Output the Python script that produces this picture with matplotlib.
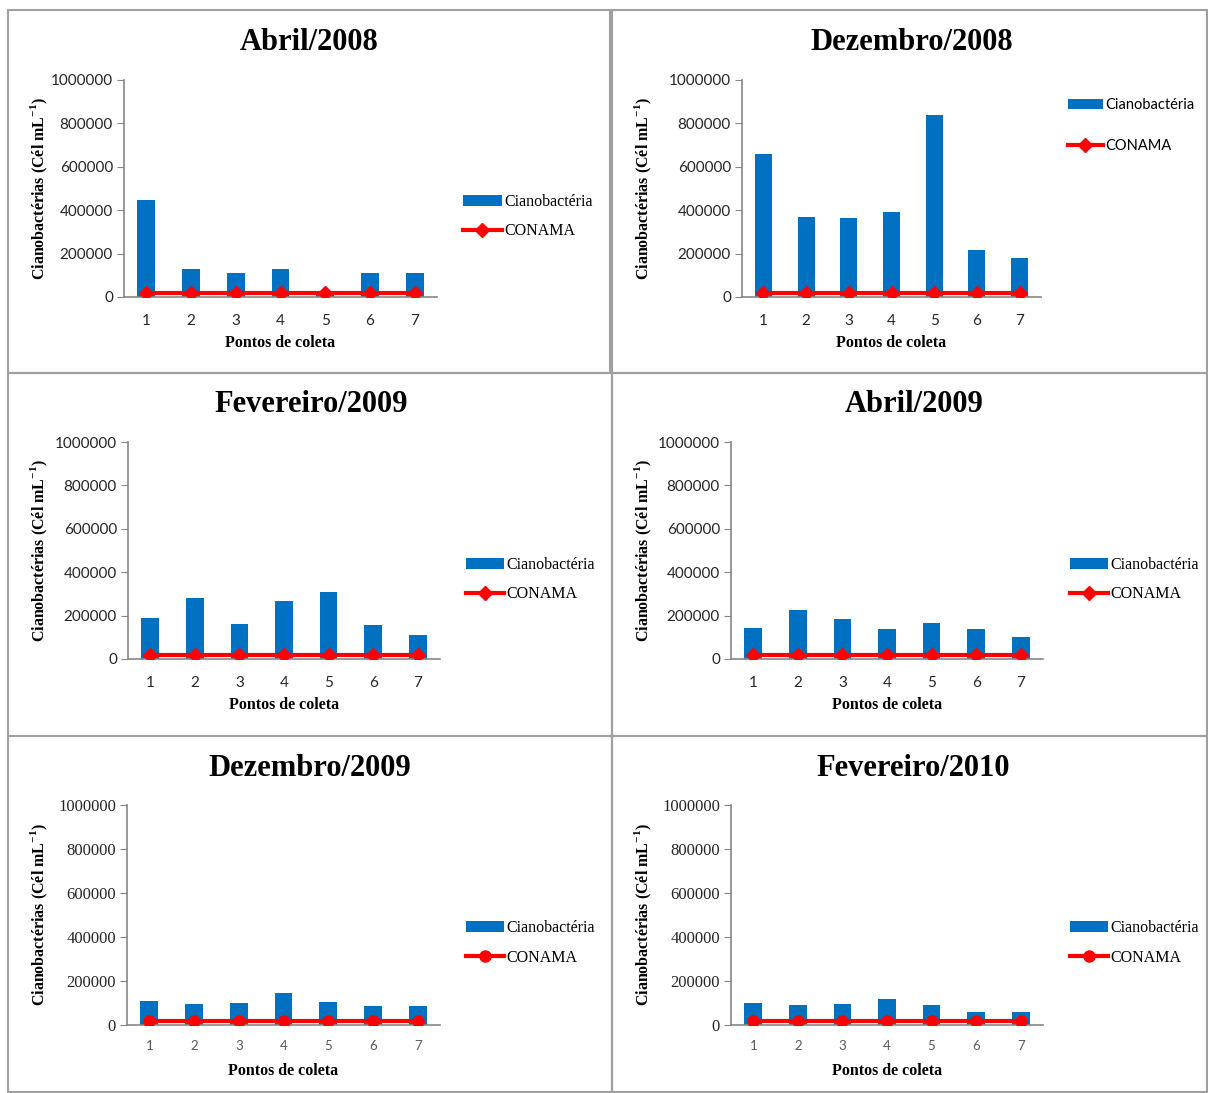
import matplotlib.pyplot as plt
from matplotlib.patches import Rectangle

# DATA
pontos = [1, 2, 3, 4, 5, 6, 7]
titulos = ["Abril/2008", "Dezembro/2008", "Fevereiro/2009",
           "Abril/2009", "Dezembro/2009", "Fevereiro/2010"]
abr_2008 = [447000, 129000, 110000, 129000, 15000, 110000, 110000]
dez_2008 = [659000, 369000, 364000, 392000, 839000, 217000, 180000]
fev_2009 = [189000, 281000, 161000, 267000, 309000, 157000, 111000]
abr_2009 = [143000, 226000, 184000, 138000, 166000, 138000, 101000]
dez_2009 = [109000, 95000, 100000, 145000, 105000, 86000, 86000]
fev_2010 = [100000, 91000, 95000, 118000, 91000, 59000, 59000]
conama = [20000] * 7
yticks = [0, 200000, 400000, 600000, 800000, 1000000]

series = [abr_2008, dez_2008, fev_2009, abr_2009, dez_2009, fev_2010]

W, H = 1208, 1093
fig = plt.figure(figsize=(W / 100, H / 100), dpi=100)

def fx(px):
    return px / W

def fy(py):
    return 1 - py / H

SERIF = "Liberation Serif"
SANS = "Lato"
BLUE = "#0070C0"
RED = "#FF0000"

# panel frames (x0, y0, x1, y1) in pixels
frames = [(8, 10, 610, 373), (612, 10, 1207, 373),
          (8, 373, 612, 736), (612, 373, 1207, 736),
          (8, 736, 612, 1092), (612, 736, 1207, 1092)]
# axes boxes (left, top, right, bottom) in pixels
boxes = [(124, 80, 437, 297), (742, 80, 1041, 297),
         (128, 442, 440, 659), (731, 442, 1043, 659),
         (127, 805, 440, 1025), (731, 805, 1043, 1025)]
title_pos = [(309, 42), (912, 42), (311, 405), (914, 405), (310, 768), (913, 768)]
leg_pos = [(1.084, 0.37), (1.09, 0.79), (1.083, 0.366),
           (1.087, 0.366), (1.083, 0.372), (1.087, 0.372)]
leg_space = [0.85, 1.85, 0.85, 0.85, 0.85, 0.85]
markers = ["D", "D", "D", "D", "o", "o"]
ytick_font = [SANS, SANS, SANS, SANS, SERIF, SERIF]
leg_font = [SERIF, SANS, SERIF, SERIF, SERIF, SERIF]

for (x0, y0, x1, y1) in frames:
    fig.patches.append(Rectangle((fx(x0), fy(y1)), fx(x1 - x0), (y1 - y0) / H,
                                 transform=fig.transFigure, fill=False,
                                 edgecolor="#A0A0A0", linewidth=1.5))

for i, vals in enumerate(series):
    l, t, r, b = boxes[i]
    ax = fig.add_axes([fx(l), fy(b), fx(r - l), (b - t) / H])
    bars = ax.bar(pontos, vals, width=0.4, color=BLUE, label="Cianobactéria", zorder=2)
    ms = 7.5 if markers[i] == "D" else 8
    line, = ax.plot(pontos, conama, color=RED, linewidth=3, marker=markers[i],
                    markersize=ms, label="CONAMA", zorder=3)
    ax.set_xlim(0.5, 7.5)
    ax.set_ylim(0, 1000000)
    ax.set_yticks(yticks)
    ax.set_yticklabels([str(v) for v in yticks], fontfamily=ytick_font[i],
                       fontsize=11 if ytick_font[i] == SANS else 12, color="#262626")
    ax.set_xticks(pontos)
    if i < 4:
        ax.set_xticklabels([str(p) for p in pontos], fontfamily=SANS,
                           fontsize=11, color="#262626")
        ax.tick_params(axis="x", length=0, pad=12)
    else:
        ax.set_xticklabels([str(p) for p in pontos], fontfamily=SANS,
                           fontsize=9.5, color="#595959")
        ax.tick_params(axis="x", length=0, pad=11)
    ax.tick_params(axis="y", length=5, color="#868686", pad=3)
    for s in ["top", "right"]:
        ax.spines[s].set_visible(False)
    for s in ["left", "bottom"]:
        ax.spines[s].set_color("#868686")
        ax.spines[s].set_linewidth(1.2)

    ax.set_ylabel("Cianobactérias (Cél mL$^{\\mathregular{-1}}$)", fontfamily=SERIF,
                  fontweight="bold", fontsize=11.5)
    ax.set_xlabel("Pontos de coleta", fontfamily=SERIF, fontweight="bold",
                  fontsize=11.5)
    lab_x = (642 + 12 - l) / (r - l) if i % 2 else (38 + 12 - l) / (r - l)
    ax.yaxis.set_label_coords(lab_x, 0.5)
    ax.xaxis.set_label_coords(0.5, -38 / (b - t))

    ax.legend([bars, line], ["Cianobactéria", "CONAMA"], loc="center left",
              bbox_to_anchor=leg_pos[i], frameon=False,
              borderpad=0, borderaxespad=0, handlelength=2.4,
              handletextpad=0.15, labelspacing=leg_space[i],
              prop={"family": leg_font[i],
                    "size": 10.5 if leg_font[i] == SANS else 11.5})

    tx, ty = title_pos[i]
    fig.text(fx(tx), fy(ty), titulos[i], ha="center", va="center",
             fontfamily=SERIF, fontweight="bold", fontsize=22)

fig.savefig("out.png", dpi=100)
